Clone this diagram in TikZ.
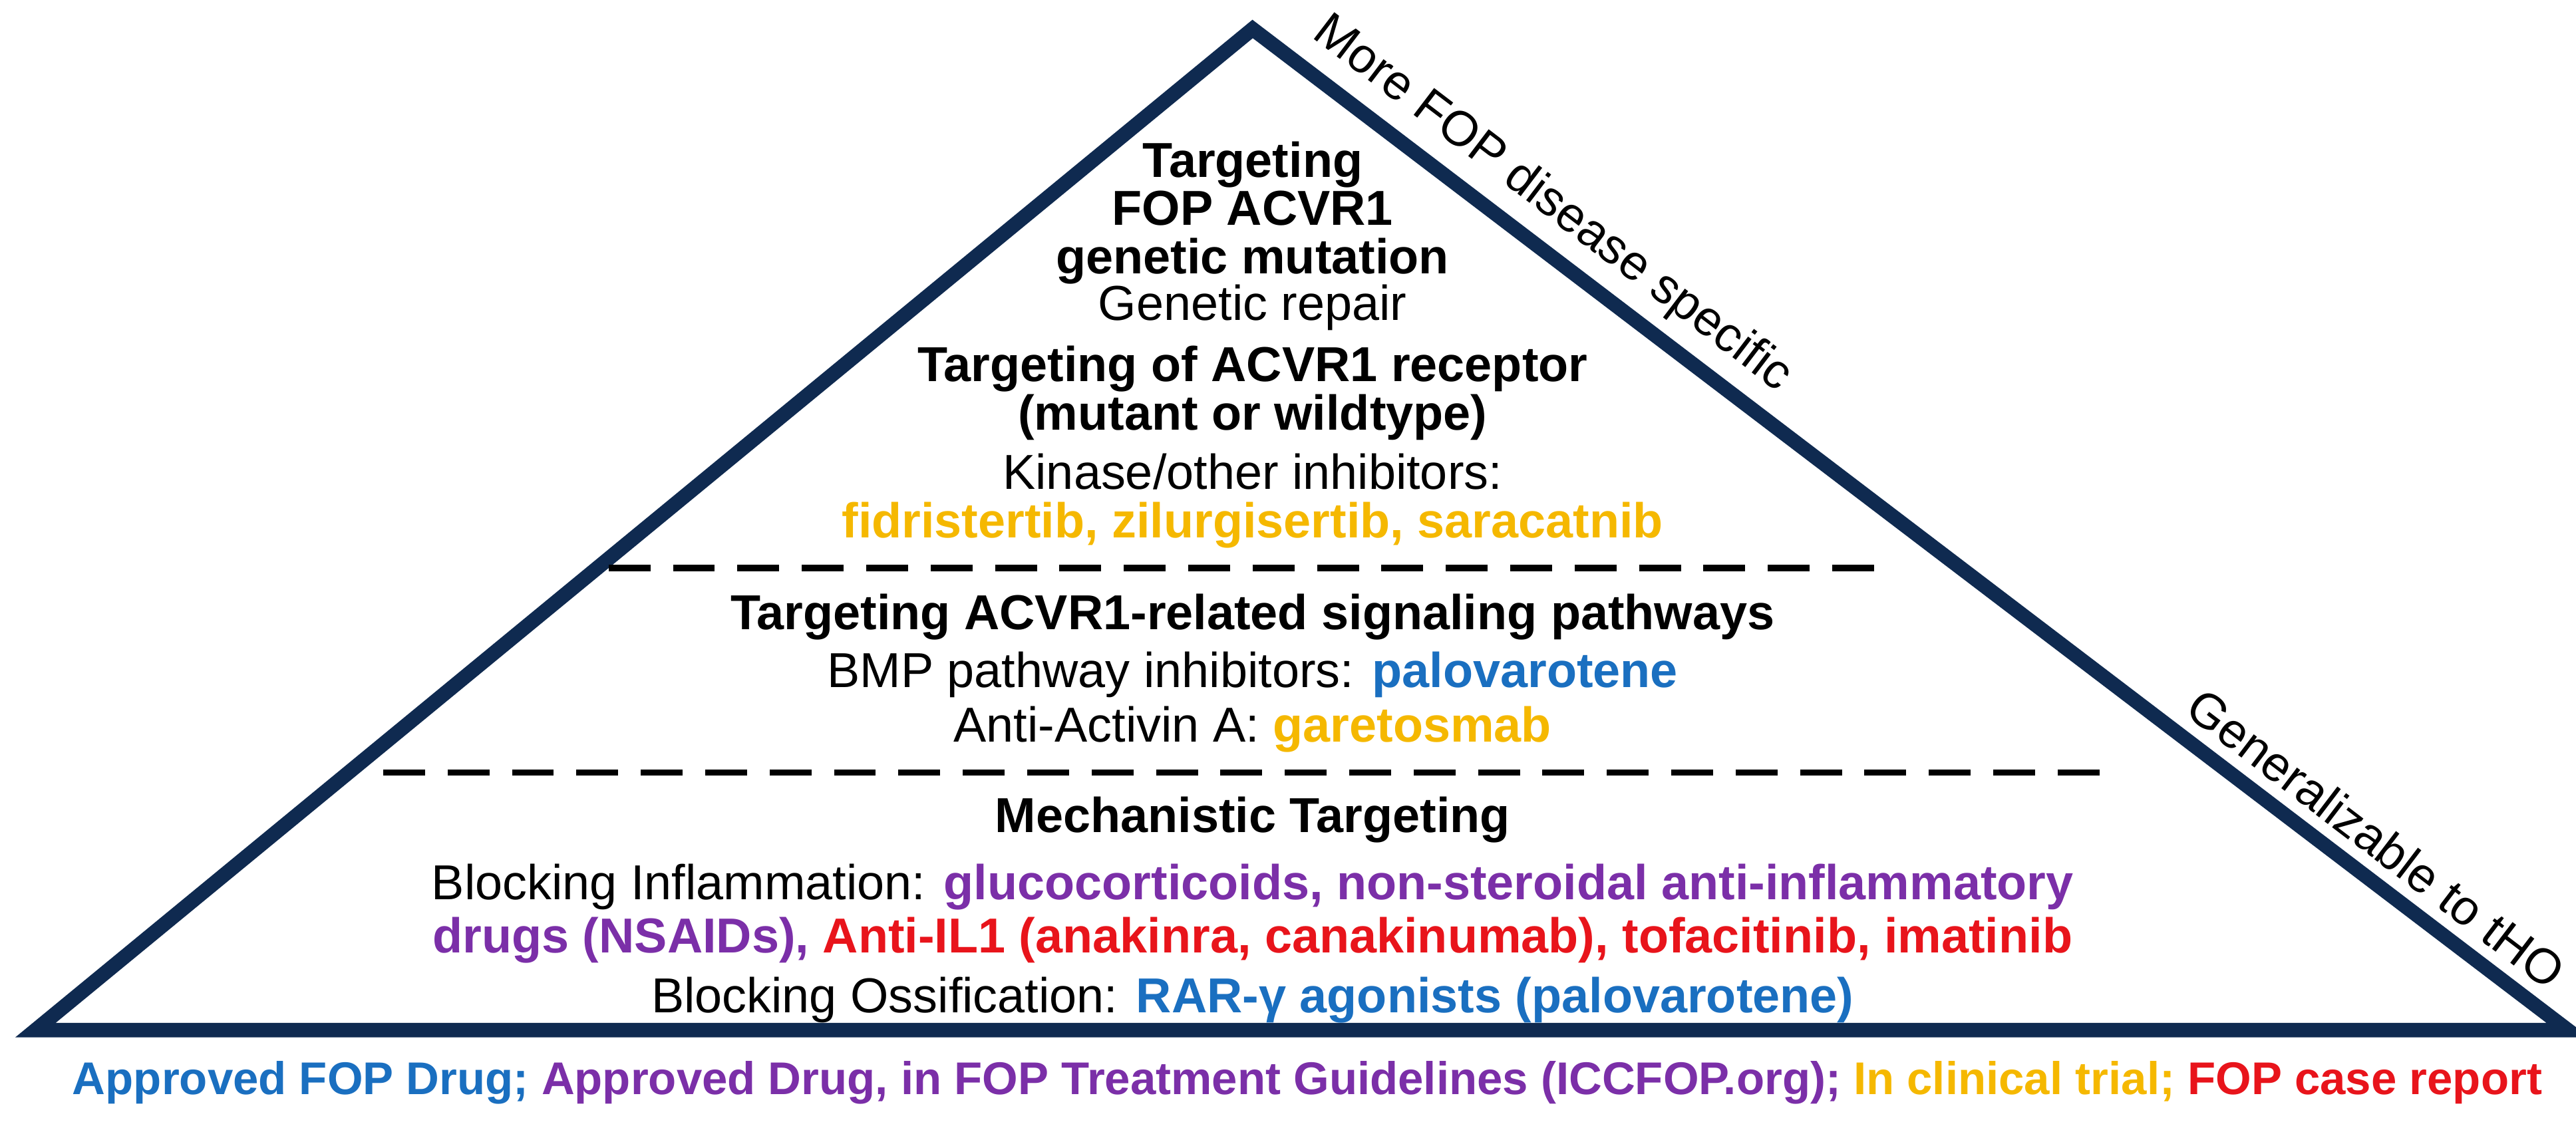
\documentclass[tikz,border=0pt]{standalone}
\usepackage{fontspec}
\setmainfont{Liberation Sans}
\definecolor{navy}{HTML}{0F2A50}
\definecolor{cblue}{HTML}{1A6FC0}
\definecolor{cpurp}{HTML}{7B2FA8}
\definecolor{cyel}{HTML}{F5B800}
\definecolor{cred}{HTML}{E8141B}
\begin{document}
\begin{tikzpicture}[x=1pt,y=-1pt,
  t/.style={font=\fontsize{30.5}{34}\selectfont,inner sep=0pt,anchor=base},
  b/.style={t,font=\fontsize{30.5}{34}\selectfont\bfseries},
  sepline/.style={line width=4pt,dash pattern=on 26pt off 14pt}]
\useasboundingbox (0,0) rectangle (1600,711.6);
\coordinate (A) at (778,18);
\coordinate (L) at (22,640);
\coordinate (R) at (1595,640);
\draw[navy,line width=9pt,line join=miter] (L) -- (A) -- (R) -- cycle;
\coordinate (d1a) at (378,353); \coordinate (d1b) at (1170,353);
\coordinate (d2a) at (238,480); \coordinate (d2b) at (1310,480);
\draw[sepline] (d1a) -- (d1b);
\draw[sepline] (d2a) -- (d2b);
\node[b] (t1) at (778,110) {Targeting};
\node[b] (t2) at (778,140) {FOP ACVR1};
\node[b] (t3) at (778,170) {genetic mutation};
\node[t] (t4) at (778,199) {Genetic repair};
\node[b] (t5) at (778,237) {Targeting of ACVR1 receptor};
\node[b] (t6) at (778,267) {(mutant or wildtype)};
\node[t] (t7) at (778,304) {Kinase/other inhibitors:};
\node[b,text=cyel] (t8) at (778,334) {fidristertib, zilurgisertib, saracatnib};
\node[b] (m1) at (778,391) {Targeting ACVR1-related signaling pathways};
\node[t] (m2) at (778,427) {BMP pathway inhibitors: \textbf{\color{cblue}palovarotene}};
\node[t] (m3) at (778,461) {Anti-Activin A: \textbf{\color{cyel}garetosmab}};
\node[b] (l1) at (778,517) {Mechanistic Targeting};
\node[t] (l2) at (778,559) {Blocking Inflammation: \textbf{\color{cpurp}glucocorticoids, non-steroidal anti-inflammatory}};
\node[b] (l3) at (778,592) {\color{cpurp}drugs (NSAIDs), \color{cred}Anti-IL1 (anakinra, canakinumab), tofacitinib, imatinib};
\node[t] (l4) at (778,629) {Blocking Ossification: \textbf{\color{cblue}RAR-γ agonists (palovarotene)}};
\node[b,font=\fontsize{28.5}{32}\selectfont\bfseries] (leg) at (812,680) {\color{cblue}Approved FOP Drug; \color{cpurp}Approved Drug, in FOP Treatment Guidelines (ICCFOP.org); \color{cyel}In clinical trial; \color{cred}FOP case report};
\node[t,anchor=center,rotate=-37.3] (s1) at (964,127) {More FOP disease specific};
\node[t,anchor=center,rotate=-37.3] (s2) at (1476,521) {Generalizable to tHO};
\end{tikzpicture}
\end{document}
